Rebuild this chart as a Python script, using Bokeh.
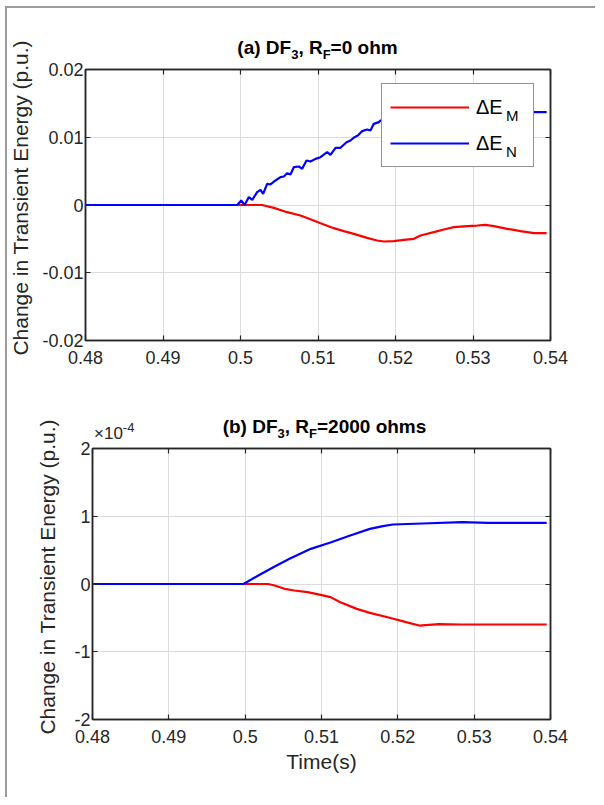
from bokeh.plotting import figure
from bokeh.layouts import column, row
from bokeh.models import LinearAxis, FixedTicker, Range1d, Legend, LegendItem, Div
from bokeh.embed import file_html
from bokeh.resources import INLINE

# ---------------- data ----------------
x_ticks = [0.48, 0.49, 0.50, 0.51, 0.52, 0.53, 0.54]
x_tick_labels = ["0.48", "0.49", "0.5", "0.51", "0.52", "0.53", "0.54"]

a_y_ticks = [-0.02, -0.01, 0.0, 0.01, 0.02]
a_y_tick_labels = ["-0.02", "-0.01", "0", "0.01", "0.02"]
b_y_ticks = [-2, -1, 0, 1, 2]          # axis values in units of 1e-4 p.u.
b_y_tick_labels = ["-2", "-1", "0", "1", "2"]

y_label = "Change in Transient Energy (p.u.)"
x_label = "Time(s)"
series_names = ["\u0394E", "\u0394E"]
series_subs = ["M", "N"]

# (a) RF = 0 ohm
a_t_M = [0.48, 0.5028, 0.5043, 0.50602, 0.50774, 0.50903, 0.51032, 0.51204, 0.51333,
         0.51462, 0.51634, 0.51763, 0.5185, 0.51978, 0.52108, 0.52237, 0.52323, 0.52495,
         0.52624, 0.52753, 0.52925, 0.53054, 0.53161, 0.53269, 0.53441, 0.53613, 0.53785,
         0.5395]
a_dE_M = [0, 0, -0.00042, -0.00106, -0.00155, -0.00209, -0.00268, -0.00342, -0.00386,
          -0.00426, -0.00485, -0.00524, -0.00539, -0.00534, -0.00514, -0.00499, -0.0045,
          -0.00401, -0.00362, -0.00327, -0.00312, -0.00303, -0.00293, -0.00312, -0.00352,
          -0.00386, -0.00416, -0.00416]
a_t_N = [0.48, 0.49957, 0.50009, 0.50052, 0.50108, 0.50151, 0.50215, 0.50258, 0.50292,
         0.50344, 0.50387, 0.50452, 0.50516, 0.50559, 0.50602, 0.50645, 0.50688, 0.50753,
         0.50796, 0.50852, 0.50903, 0.50968, 0.51032, 0.51118, 0.51161, 0.51226, 0.5129,
         0.51368, 0.51419, 0.51471, 0.51514, 0.5157, 0.51634, 0.51677, 0.5172, 0.51785,
         0.51806, 0.5195, 0.5210, 0.5230, 0.5260, 0.5395]
a_dE_N = [0, 0, 0.00066, 0.0, 0.00116, 0.00076, 0.00189, 0.00224, 0.00165, 0.00312,
          0.00303, 0.00362, 0.00411, 0.00421, 0.0047, 0.0045, 0.00558, 0.00568, 0.00534,
          0.00657, 0.00642, 0.00681, 0.00706, 0.0078, 0.0074, 0.00844, 0.00844, 0.00927,
          0.00952, 0.01001, 0.01026, 0.0109, 0.01114, 0.011, 0.01198, 0.01223, 0.01247,
          0.0129, 0.0133, 0.0136, 0.0137, 0.0137]

# (b) RF = 2000 ohms  (values in units of 1e-4 p.u.)
b_t_M = [0.48, 0.50301, 0.50387, 0.50516, 0.50645, 0.50817, 0.50989, 0.51118, 0.51247,
         0.51462, 0.51634, 0.51892, 0.52108, 0.5228, 0.52538, 0.52839, 0.5395]
b_dE_M = [0, 0, -0.022, -0.071, -0.096, -0.121, -0.160, -0.194, -0.268, -0.367, -0.426,
          -0.499, -0.563, -0.613, -0.593, -0.598, -0.598]
b_t_N = [0.48, 0.49978, 0.50172, 0.50387, 0.50581, 0.5086, 0.51118, 0.51376, 0.51634,
         0.51806, 0.51935, 0.52323, 0.52839, 0.53183, 0.5395]
b_dE_N = [0, 0, 0.126, 0.258, 0.372, 0.519, 0.613, 0.716, 0.814, 0.854, 0.878, 0.893,
          0.913, 0.903, 0.903]

# ---------------- styling ----------------
FONT = "Liberation Sans"
AX = "#262626"
GRID = "#dcdcdc"
RED = "#ff0000"
BLUE = "#0000ff"
FW, FH = 465, 271  # frame size in px
RIGHT = 45
TOTAL_W = 588


def ylabel_div(width, height, cx, cy):
    inner = (f'<div style="position:absolute;left:{cx}px;top:{cy}px;'
             f'transform:translate(-50%,-50%) rotate(-90deg);white-space:nowrap;'
             f'font-family:\'{FONT}\';font-size:21px;line-height:23px;color:{AX};">'
             f'{y_label}</div>')
    return Div(text=f'<div style="position:relative;width:{width}px;height:{height}px;">'
                    f'{inner}</div>', width=width, height=height, margin=0)


def title_div(main_parts, width, left, height, top, exp_top=None):
    sub_css = "font-size:13px;vertical-align:-5px;line-height:0;"
    html = "".join(t if kind == "n" else f'<sub style="{sub_css}">{t}</sub>'
                   for t, kind in main_parts)
    inner = (f'<div style="position:absolute;left:{left}px;width:{FW}px;top:{top}px;'
             f'text-align:center;font-family:\'{FONT}\';font-weight:bold;font-size:19px;'
             f'line-height:19px;color:#000;white-space:nowrap;">{html}</div>')
    if exp_top is not None:
        inner += (f'<div style="position:absolute;left:{left + 2}px;top:{exp_top}px;'
                  f'font-family:\'{FONT}\';font-size:17px;line-height:17px;color:{AX};'
                  f'white-space:nowrap;">\u00d710<sup style="font-size:13px;'
                  f'vertical-align:7px;line-height:0;">-4</sup></div>')
    return Div(text=f'<div style="position:relative;width:{width}px;height:{height}px;">'
                    f'{inner}</div>', width=width, height=height, margin=0)


def panel(width, left, top, b_bottom, y_rng, y_ticks, y_labels, xlabel):
    p = figure(width=width, height=top + FH + b_bottom, x_range=Range1d(0.48, 0.54),
               y_range=Range1d(*y_rng), output_backend="svg", toolbar_location=None,
               min_border_left=left, min_border_right=RIGHT, min_border_top=top,
               min_border_bottom=b_bottom, background_fill_color="white",
               border_fill_color="white")
    p.add_layout(LinearAxis(), "right")
    p.add_layout(LinearAxis(), "above")
    for ax in p.xaxis:
        ax.ticker = FixedTicker(ticks=x_ticks)
        ax.major_label_overrides = dict(zip(x_ticks, x_tick_labels))
    for ax in p.yaxis:
        ax.ticker = FixedTicker(ticks=y_ticks)
        ax.major_label_overrides = dict(zip(y_ticks, y_labels))
    for ax in p.axis:
        ax.axis_line_color = AX
        ax.axis_line_width = 1.5
        ax.major_tick_line_color = AX
        ax.major_tick_line_width = 1.2
        ax.major_tick_in = 5
        ax.major_tick_out = 0
        ax.minor_tick_line_color = None
        ax.major_label_text_font = FONT
        ax.major_label_text_font_size = "18px"
        ax.major_label_text_color = AX
        ax.axis_label_text_font = FONT
        ax.axis_label_text_font_size = "21px"
        ax.axis_label_text_font_style = "normal"
        ax.axis_label_text_color = AX
    # box axes (top and right): ticks only, labels not drawn
    for ax in list(p.right) + list(p.above):
        ax.major_label_text_color = None
        ax.major_label_text_font_size = "1px"
        ax.major_label_standoff = 0
    p.below[0].major_label_standoff = 10
    p.left[0].major_label_standoff = 2
    if xlabel:
        p.below[0].axis_label = xlabel
        p.below[0].axis_label_standoff = 4
    p.grid.grid_line_color = GRID
    p.grid.grid_line_width = 1
    p.outline_line_color = AX
    p.outline_line_width = 1.5
    return p


# ---- panel (a) ----
WL_A = 32
ylab_a = ylabel_div(WL_A, 387, 13, 190)
div_a = title_div([("(a) DF", "n"), ("3", "s"), (", R", "n"), ("F", "s"), ("=0 ohm", "n")],
                  TOTAL_W - WL_A, 78 - WL_A, 52, 30)
pa = panel(TOTAL_W - WL_A, 78 - WL_A, 9, 55, (-0.02, 0.02), a_y_ticks, a_y_tick_labels,
           None)
ra_M = pa.line(a_t_M, a_dE_M, line_color=RED, line_width=2.2)
ra_N = pa.line(a_t_N, a_dE_N, line_color=BLUE, line_width=2.2)

leg = Legend(items=[LegendItem(label=series_names[0], renderers=[ra_M]),
                    LegendItem(label=series_names[1], renderers=[ra_N])],
             location=(296, 173), padding=8, spacing=6, margin=0,
             glyph_width=79, glyph_height=30, label_height=30, label_width=49,
             label_standoff=7, label_text_font=FONT, label_text_font_size="20px",
             label_text_color="black", label_text_baseline="middle",
             border_line_color=AX, border_line_width=1.5,
             background_fill_color="white", background_fill_alpha=1.0)
pa.add_layout(leg)
# subscripts of the legend labels (second, frameless legend without glyphs)
leg_sub = Legend(items=[LegendItem(label=series_subs[0], renderers=[ra_M]),
                        LegendItem(label=series_subs[1], renderers=[ra_N])],
                 location=(421, 174), padding=0, spacing=6, margin=0,
                 glyph_width=0, glyph_height=30, label_height=30, label_width=12,
                 label_standoff=0, label_text_font=FONT, label_text_font_size="15px",
                 label_text_color="black", label_text_baseline="middle",
                 border_line_color=None, background_fill_alpha=0.0)
pa.add_layout(leg_sub)

# ---- panel (b) ----
WL_B = 55
ylab_b = ylabel_div(WL_B, 402, 40, 182)
div_b = title_div([("(b) DF", "n"), ("3", "s"), (", R", "n"), ("F", "s"),
                   ("=2000 ohms", "n")], TOTAL_W - WL_B, 78 - WL_B + 7, 44, 22, exp_top=30)
pb = panel(TOTAL_W - WL_B, 78 - WL_B + 7, 9, 78, (-2, 2), b_y_ticks, b_y_tick_labels,
           x_label)
pb.line(b_t_M, b_dE_M, line_color=RED, line_width=2.2)
pb.line(b_t_N, b_dE_N, line_color=BLUE, line_width=2.2)

layout = column(row(ylab_a, column(div_a, pa, spacing=0), spacing=0),
                row(ylab_b, column(div_b, pb, spacing=0), spacing=0),
                spacing=0, margin=(6, 0, 0, 5),
                styles={"border-left": "2px solid #9b9b9b", "border-top": "2px solid #9b9b9b"})

open("out.html", "w").write(file_html(layout, INLINE))
